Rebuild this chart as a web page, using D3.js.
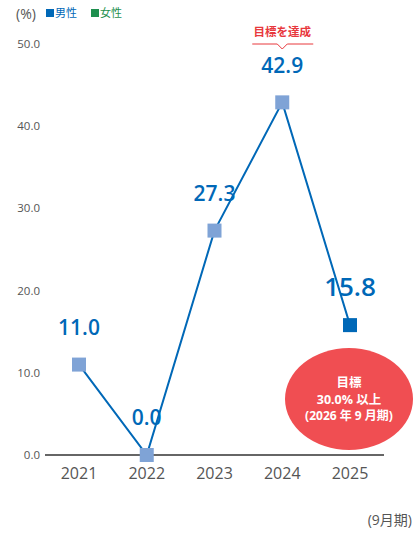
<!DOCTYPE html>
<html><head><meta charset="utf-8">
<script src="https://cdn.jsdelivr.net/npm/d3@7"></script>
<style>body{margin:0;background:#fff;} svg{display:block;font-family:"Open Sans","Noto Sans CJK JP",sans-serif;}</style>
</head><body>
<svg id="c" width="420" height="534"></svg>
<script>
const years = ["2021","2022","2023","2024","2025"];
const maleValues = [11.0, 0.0, 27.3, 42.9, 15.8];
const yTicks = [0, 10, 20, 30, 40, 50];
const legendItems = [{label:"男性", color:"#0068b7"},{label:"女性", color:"#1e8f4e"}];
const targetLines = ["目標","30.0% 以上","(2026 年 9 月期)"];

const svg = d3.select("#c");
const x = d3.scalePoint().domain(years).range([79, 350]);
const y = d3.scaleLinear().domain([0, 50]).range([455, 44]);
const blue = "#0068b7", light = "#7fa3d6", red = "#f04e52", gray = "#555";

// y tick labels
svg.append("g").selectAll("text").data(yTicks).join("text")
  .attr("x", 40).attr("y", d => y(d)).attr("dy", "0.35em")
  .attr("text-anchor", "end").attr("font-size", 11.5).attr("fill", gray)
  .text(d => d.toFixed(1));

// target ellipse
svg.append("ellipse").attr("cx", 349).attr("cy", 399).attr("rx", 64).attr("ry", 51).attr("fill", red);
svg.append("g").selectAll("text").data(targetLines).join("text")
  .attr("x", 349).attr("y", (d,i) => 387 + i*16.5)
  .attr("text-anchor", "middle").attr("font-size", (d,i)=> i==2?12:12.5).attr("font-weight", "bold")
  .attr("fill", "#fff").text(d => d);

// baseline
svg.append("line").attr("x1", 45).attr("x2", 384).attr("y1", y(0)).attr("y2", y(0))
  .attr("stroke", "#333").attr("stroke-width", 1.6);

// x labels
svg.append("g").selectAll("text").data(years).join("text")
  .attr("x", d => x(d)).attr("y", 479).attr("text-anchor", "middle")
  .attr("font-size", 16).attr("fill", gray).text(d => d);

// line
const line = d3.line().x((d,i) => x(years[i])).y(d => y(d));
svg.append("path").datum(maleValues).attr("d", line).attr("fill", "none")
  .attr("stroke", blue).attr("stroke-width", 2);

// markers
const ms = 14;
svg.append("g").selectAll("rect").data(maleValues).join("rect")
  .attr("x", (d,i) => x(years[i]) - ms/2).attr("y", d => y(d) - ms/2)
  .attr("width", ms).attr("height", ms)
  .attr("fill", (d,i) => i === maleValues.length-1 ? blue : light);

// value labels
const labelDy = [-30, -30, -30, -29, -29];
svg.append("g").selectAll("text").data(maleValues).join("text")
  .attr("x", (d,i) => x(years[i])).attr("y", (d,i) => y(d) + labelDy[i])
  .attr("text-anchor", "middle").attr("font-size", (d,i) => i===4 ? 26 : 21)
  .attr("font-weight", 600).attr("fill", blue).text(d => d.toFixed(1));

// achieved callout
const cx4 = x("2024");
svg.append("text").attr("x", cx4).attr("y", 36).attr("text-anchor", "middle")
  .attr("font-size", 11.5).attr("font-weight", "bold").attr("fill", "#e8383d").text("目標を達成");
svg.append("path").attr("d", `M${cx4-30},44 H${cx4-5} L${cx4},49 L${cx4+5},44 H${cx4+31}`)
  .attr("fill", "none").attr("stroke", "#e8383d").attr("stroke-width", 1);

// legend
svg.append("text").attr("x", 16).attr("y", 19).attr("font-size", 14).attr("fill", gray).text("(%)");
const lg = svg.append("g").selectAll("g").data(legendItems).join("g")
  .attr("transform", (d,i) => `translate(${46 + i*45},0)`);
lg.append("rect").attr("x", 0).attr("y", 9).attr("width", 8).attr("height", 8).attr("fill", d => d.color);
lg.append("text").attr("x", 9).attr("y", 17).attr("font-size", 11).attr("fill", d => d.color).text(d => d.label);

// unit note
svg.append("text").attr("x", 412).attr("y", 525).attr("text-anchor", "end")
  .attr("font-size", 14).attr("fill", gray).text("(9月期)");
</script>
</body></html>
